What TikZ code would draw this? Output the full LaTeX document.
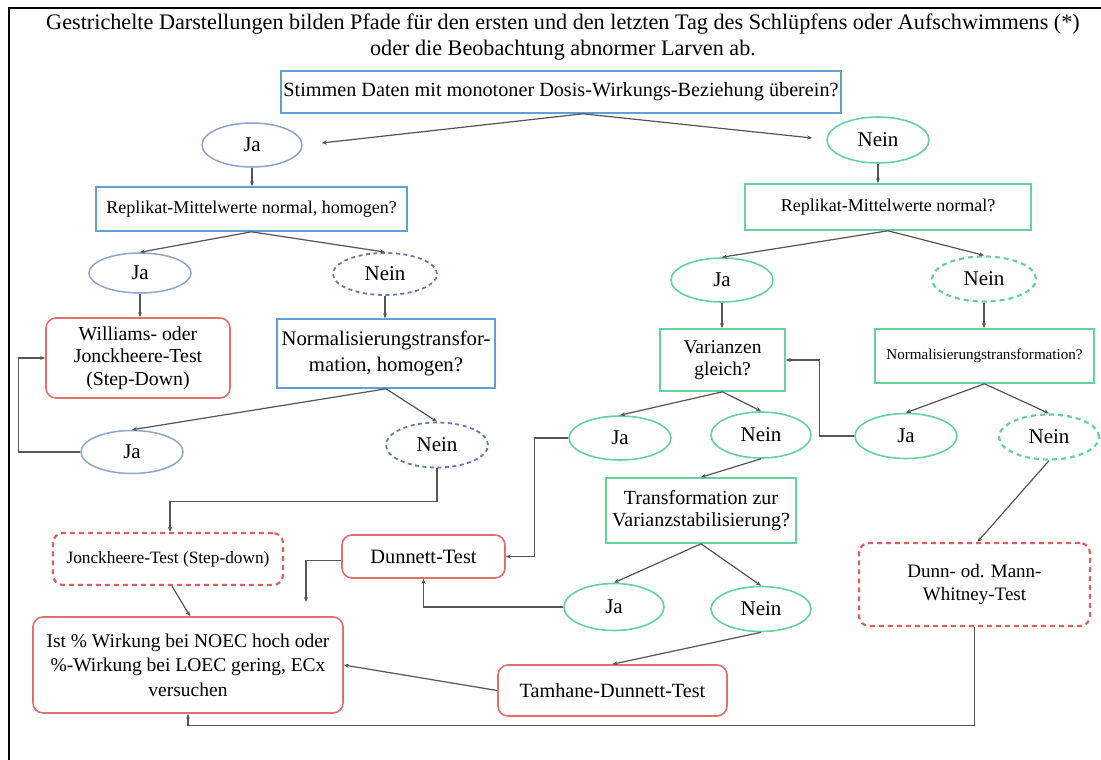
\documentclass[tikz,border=0pt]{standalone}
\usepackage{fontspec}
\setmainfont{Liberation Serif}
\usetikzlibrary{shapes.geometric,arrows.meta}
\definecolor{boxblue}{RGB}{96,160,214}
\definecolor{ellblue}{RGB}{140,165,205}
\definecolor{dashblue}{RGB}{95,125,180}
\definecolor{mint}{RGB}{100,212,156}
\definecolor{softred}{RGB}{226,110,110}
\definecolor{dashred}{RGB}{222,95,95}
\definecolor{linegray}{RGB}{85,85,85}
\tikzset{
  base/.style={inner sep=0pt, align=center, text=black, font=\fontsize{20}{24}\selectfont},
  bluebox/.style={base, rectangle, draw=boxblue, line width=1.6pt},
  greenbox/.style={base, rectangle, draw=mint, line width=1.6pt},
  redbox/.style={base, rectangle, draw=softred, line width=1.6pt, rounded corners=10pt},
  reddash/.style={redbox, draw=dashred, line width=2.2pt, dash pattern=on 5pt off 4pt},
  ellb/.style={base, ellipse, draw=ellblue, line width=1.5pt, font=\fontsize{21}{24}\selectfont},
  ellbdash/.style={ellb, draw=dashblue, line width=1.8pt, dash pattern=on 4pt off 3.5pt},
  ellg/.style={base, ellipse, draw=mint, line width=1.6pt, font=\fontsize{21}{24}\selectfont},
  ellgdash/.style={ellg, line width=2.2pt, dash pattern=on 5pt off 4pt},
  arr/.style={draw=linegray, line width=1.2pt, -{Stealth[length=5pt,width=4pt]}},
}
\begin{document}
\begin{tikzpicture}[x=1pt,y=-1pt]
\useasboundingbox (0,0) rectangle (1101,760);
\fill[white] (0,0) rectangle (1101,760);
% frame
\draw[line width=2pt, black] (9,760) -- (9,8) -- (1101,8);

% title
\node[base, font=\fontsize{22.2}{26.5}\selectfont] (title) at (563,37)
  {Gestrichelte Darstellungen bilden Pfade für den ersten und den letzten Tag des Schlüpfens oder Aufschwimmens (*)\\oder die Beobachtung abnormer Larven ab.};

% top question
\node[bluebox, minimum width=560pt, minimum height=42pt, font=\fontsize{20.2}{24}\selectfont] (top) at (561,92)
  {Stimmen Daten mit monotoner Dosis-Wirkungs-Beziehung überein?};

% left branch
\node[ellb, minimum width=100pt, minimum height=44pt] (jaA) at (252,145) {Ja};
\node[ellg, minimum width=102pt, minimum height=46pt] (neinA) at (878,140) {Nein};

\node[bluebox, minimum width=311pt, minimum height=44pt, font=\fontsize{18}{21}\selectfont] (repL) at (251.5,209)
  {Replikat-Mittelwerte normal, homogen?};
\node[greenbox, minimum width=286pt, minimum height=46pt, font=\fontsize{18}{21}\selectfont] (repR) at (888,207)
  {Replikat-Mittelwerte normal?};

\node[ellb, minimum width=102pt, minimum height=40pt] (jaB) at (140,273) {Ja};
\node[ellbdash, minimum width=104pt, minimum height=42pt] (neinB) at (385,274) {Nein};

\node[redbox, minimum width=184pt, minimum height=80pt, font=\fontsize{19.8}{22.5}\selectfont] (will) at (138,358)
  {Williams- oder\\Jonckheere-Test\\(Step-Down)};
\node[bluebox, minimum width=218pt, minimum height=69pt, font=\fontsize{20.7}{26}\selectfont] (normL) at (386,353.5)
  {Normalisierungstransfor-\\mation, homogen?};

\node[ellb, minimum width=102pt, minimum height=43pt] (jaC) at (132,452) {Ja};
\node[ellbdash, minimum width=102pt, minimum height=45pt] (neinC) at (437,445) {Nein};

\node[reddash, minimum width=230pt, minimum height=52pt, font=\fontsize{17.3}{20}\selectfont] (jonck) at (168,559)
  {Jonckheere-Test (Step-down)};
\node[redbox, minimum width=163pt, minimum height=43pt, font=\fontsize{20.4}{24}\selectfont] (dunnett) at (423.5,556.5) {Dunnett-Test};
\node[redbox, minimum width=310pt, minimum height=96pt, font=\fontsize{19.5}{24.5}\selectfont] (ist) at (188,665)
  {Ist \% Wirkung bei NOEC hoch oder\\\%-Wirkung bei LOEC gering, ECx\\versuchen};
\node[redbox, minimum width=229pt, minimum height=51pt, font=\fontsize{20.2}{24}\selectfont] (tam) at (612.5,690.5)
  {Tamhane-Dunnett-Test};

% right branch
\node[ellg, minimum width=102pt, minimum height=44pt] (jaD) at (722,280) {Ja};
\node[ellgdash, minimum width=104pt, minimum height=45pt] (neinD) at (984,279) {Nein};

\node[greenbox, minimum width=125pt, minimum height=62pt, font=\fontsize{19.5}{22.5}\selectfont] (var) at (722.5,360)
  {Varianzen\\gleich?};
\node[greenbox, minimum width=219pt, minimum height=54pt, font=\fontsize{15.1}{18}\selectfont] (normR) at (984.5,356)
  {Normalisierungstransformation?};

\node[ellg, minimum width=102pt, minimum height=44pt] (jaE) at (620,438) {Ja};
\node[ellg, minimum width=100pt, minimum height=46pt] (neinE) at (761,435) {Nein};
\node[ellg, minimum width=102pt, minimum height=45pt] (jaF) at (906,436) {Ja};
\node[ellgdash, minimum width=100pt, minimum height=45pt] (neinF) at (1049,437) {Nein};

\node[greenbox, minimum width=190pt, minimum height=65pt, font=\fontsize{20}{22.5}\selectfont] (trans) at (701,510.5)
  {Transformation zur\\Varianzstabilisierung?};

\node[ellg, minimum width=100pt, minimum height=47pt] (jaG) at (614,607) {Ja};
\node[ellg, minimum width=100pt, minimum height=45pt] (neinG) at (761,609) {Nein};

\node[reddash, minimum width=231pt, minimum height=83pt, font=\fontsize{19}{23}\selectfont] (dunn) at (974.5,584.5)
  {Dunn- od. Mann-\\Whitney-Test};

\coordinate (dfree) at (306,602);

% connectors
\draw[arr] ([xshift=22pt]top.south) -- ([xshift=19pt,yshift=2pt]jaA.east);
\draw[arr] ([xshift=22pt]top.south) -- ([xshift=-14pt,yshift=2pt]neinA.west);
\draw[arr] (jaA.south) -- (jaA.south |- repL.north);
\draw[arr] (neinA.south) -- (neinA.south |- repR.north);
\draw[arr] (repL.south) -- (jaB.north);
\draw[arr] (repL.south) -- (neinB.north);
\draw[arr] (jaB.south) -- (jaB.south |- will.north);
\draw[arr] (neinB.south) -- (neinB.south |- normL.north);
\draw[arr] (normL.south) -- (jaC.north);
\draw[arr] (normL.south) -- (neinC.north);
\draw[arr] (jaC.west) -- ++(-62,0) |- (will.west);
\draw[arr] (neinC.south) -- ++(0,33) -| ([xshift=2pt]jonck.north);
\draw[arr] ([xshift=4pt]jonck.south) -- ([xshift=2pt]ist.north);
\draw[arr] ([yshift=-4pt]dunnett.west) -| (dfree);
\draw[arr] (jaE.west) -- ++(-34,0) |- (dunnett.east);
\draw[arr] (jaG.west) -| (dunnett.south);
\draw[arr] (tam.west) -- (ist.east);
\draw[arr] (dunn.south) -- ++(0,98) -| (ist.south);
\draw[arr] (repR.south) -- (jaD.north);
\draw[arr] (repR.south) -- (neinD.north);
\draw[arr] (jaD.south) -- (jaD.south |- var.north);
\draw[arr] (neinD.south) -- (neinD.south |- normR.north);
\draw[arr] (normR.south) -- (jaF.north);
\draw[arr] (normR.south) -- (neinF.north);
\draw[arr] (jaF.west) -- ++(-35,0) |- (var.east);
\draw[arr] (var.south) -- (jaE.north);
\draw[arr] (var.south) -- (neinE.north);
\draw[arr] (neinE.south) -- (trans.north);
\draw[arr] (trans.south) -- (jaG.north);
\draw[arr] (trans.south) -- (neinG.north);
\draw[arr] (neinG.south) -- (tam.north);
\draw[arr] (neinF.south) -- ([xshift=3pt]dunn.north);
\end{tikzpicture}
\end{document}
